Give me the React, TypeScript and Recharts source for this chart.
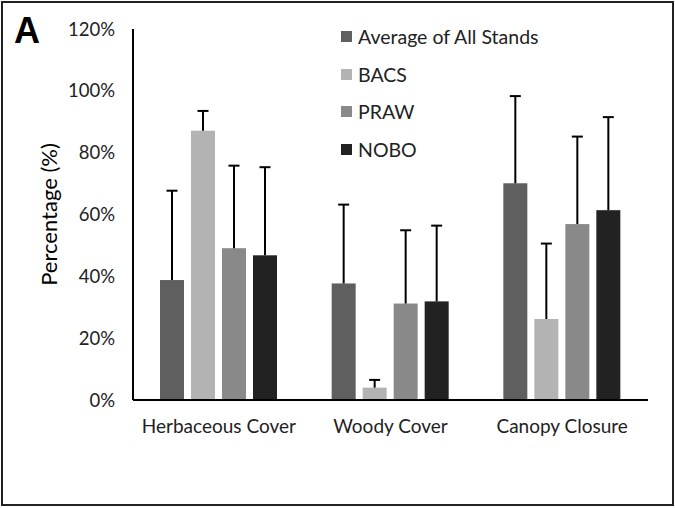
import { BarChart, Bar, XAxis, YAxis, Legend } from "recharts"

const categories = ["Herbaceous Cover", "Woody Cover", "Canopy Closure"]

const avgValues = [38.8, 37.7, 70.1]
const avgErrors = [28.9, 25.5, 28.2]
const bacsValues = [87.1, 4.0, 26.2]
const bacsErrors = [6.4, 2.5, 24.4]
const prawValues = [49.1, 31.2, 56.9]
const prawErrors = [26.7, 23.7, 28.3]
const noboValues = [46.8, 31.9, 61.4]
const noboErrors = [28.5, 24.5, 30.1]

const yTicks = [0, 20, 40, 60, 80, 100, 120]

const series = [
  { key: "avg", err: "avgErr", name: "Average of All Stands", color: "#5f5f5f" },
  { key: "bacs", err: "bacsErr", name: "BACS", color: "#b3b3b3" },
  { key: "praw", err: "prawErr", name: "PRAW", color: "#898989" },
  { key: "nobo", err: "noboErr", name: "NOBO", color: "#222222" },
]

const data = categories.map((name, i) => ({
  name,
  avg: avgValues[i],
  avgErr: avgErrors[i],
  bacs: bacsValues[i],
  bacsErr: bacsErrors[i],
  praw: prawValues[i],
  prawErr: prawErrors[i],
  nobo: noboValues[i],
  noboErr: noboErrors[i],
}))

const FONT = "Lato, 'Open Sans', sans-serif"

// bar plus a one-sided (upward) error whisker, scaled off the bar's own height
function barWithError(errKey: string) {
  return (props: any) => {
    const { x, y, width, height, fill, payload, value } = props
    const v = Array.isArray(value) ? value[1] - value[0] : value
    const perUnit = v ? height / v : 0
    const top = y - payload[errKey] * perUnit
    const cx = x + width / 2
    return (
      <g>
        <rect x={x} y={y} width={width} height={height} fill={fill} />
        <line x1={cx} x2={cx} y1={y} y2={top} stroke="#000" strokeWidth={2} />
        <line x1={cx - 5.5} x2={cx + 5.5} y1={top} y2={top} stroke="#000" strokeWidth={2} />
      </g>
    )
  }
}

// legend keeps the series order (recharts would sort it by name)
function LegendList() {
  return (
    <div style={{ fontFamily: FONT, fontSize: 19.5, color: "#222" }}>
      {series.map((s) => (
        <div key={s.key} style={{ display: "flex", alignItems: "center", height: 37.5 }}>
          <span
            style={{ width: 11, height: 11, background: s.color, display: "inline-block", marginRight: 6 }}
          />
          {s.name}
        </div>
      ))}
    </div>
  )
}

function YTitle({ viewBox }: any) {
  const cy = viewBox.y + viewBox.height / 2
  const cx = 48
  return (
    <text
      x={cx}
      y={cy}
      transform={`rotate(-90, ${cx}, ${cy})`}
      textAnchor="middle"
      dominantBaseline="central"
      fontFamily={FONT}
      fontSize={22}
      fill="#000"
    >
      Percentage (%)
    </text>
  )
}

export default function App() {
  return (
    <div
      style={{
        position: "absolute",
        left: 0,
        top: 0,
        width: 675,
        height: 508,
        background: "#fff",
      }}
    >
      <div
        style={{
          position: "absolute",
          left: 1,
          top: 1,
          width: 669,
          height: 501,
          border: "2px solid #222",
        }}
      />
      <div
        style={{
          position: "absolute",
          left: 14,
          top: 10,
          fontFamily: "'Liberation Sans', Arial, sans-serif",
          fontWeight: "bold",
          fontSize: 36,
          color: "#000",
        }}
      >
        A
      </div>
      <BarChart
        width={675}
        height={508}
        data={data}
        margin={{ top: 29, right: 27, bottom: 78, left: 33 }}
        barSize={24}
        barGap={7}
        style={{ position: "absolute", left: 0, top: 0 }}
      >
        <XAxis
          dataKey="name"
          axisLine={{ stroke: "#000", strokeWidth: 2 }}
          tickLine={false}
          tickMargin={14}
          tick={{ fill: "#222", fontFamily: FONT, fontSize: 19 }}
        />
        <YAxis
          width={100}
          domain={[0, 120]}
          ticks={yTicks}
          tickFormatter={(v: number) => `${v}%`}
          axisLine={{ stroke: "#000", strokeWidth: 2 }}
          tickLine={false}
          tickMargin={12}
          tick={{ fill: "#222", fontFamily: FONT, fontSize: 18.5 }}
          label={{ content: YTitle }}
        />
        <Legend
          layout="vertical"
          align="center"
          verticalAlign="middle"
          content={LegendList}
          wrapperStyle={{ position: "absolute", left: 341, top: 18, width: 290 }}
        />
        {series.map((s) => (
          <Bar
            key={s.key}
            dataKey={s.key}
            name={s.name}
            fill={s.color}
            isAnimationActive={false}
            shape={barWithError(s.err)}
          />
        ))}
      </BarChart>
    </div>
  )
}
